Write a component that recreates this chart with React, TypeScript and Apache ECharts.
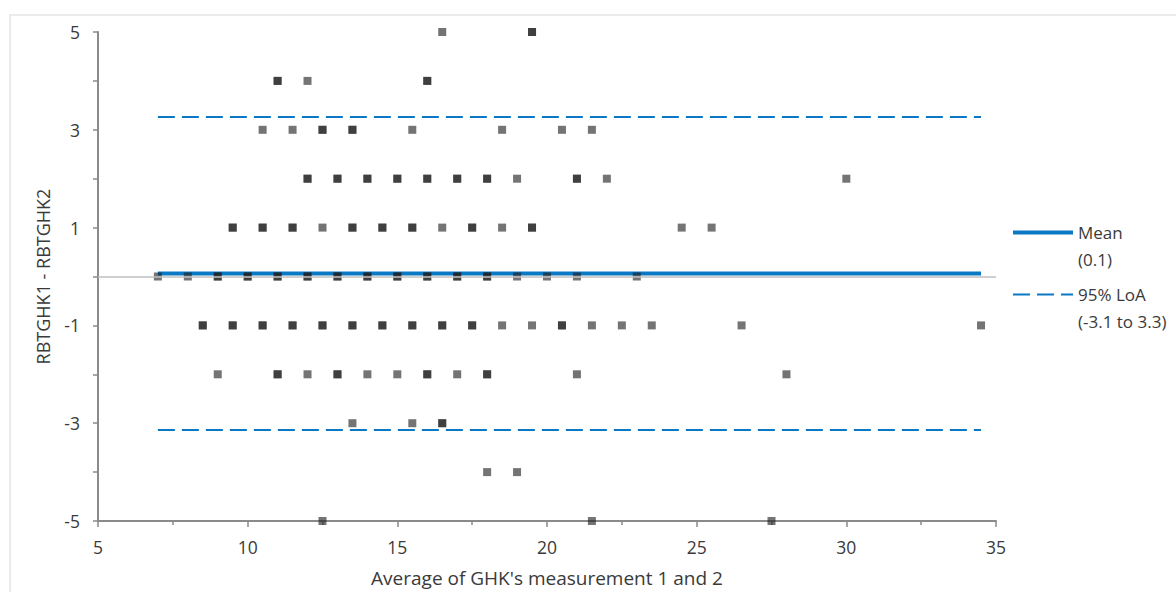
import React, { useEffect, useRef } from "react";
import * as echarts from "echarts";

// Each observation: [average of measurements 1 and 2, difference RBTGHK1 - RBTGHK2]
const observationsFirst: [number, number][] = [
  [16.5, 5], [19.5, 5],
  [11, 4], [12, 4], [16, 4],
  [10.5, 3], [11.5, 3], [12.5, 3], [13.5, 3], [15.5, 3], [18.5, 3], [20.5, 3], [21.5, 3],
  [12, 2], [13, 2], [14, 2], [15, 2], [16, 2], [17, 2], [18, 2], [19, 2], [21, 2], [22, 2], [30, 2],
  [9.5, 1], [10.5, 1], [11.5, 1], [12.5, 1], [13.5, 1], [14.5, 1], [15.5, 1], [16.5, 1], [17.5, 1], [18.5, 1], [19.5, 1], [24.5, 1], [25.5, 1],
  [7, 0], [8, 0], [9, 0], [10, 0], [11, 0], [12, 0], [13, 0], [14, 0], [15, 0], [16, 0], [17, 0], [18, 0], [19, 0], [20, 0], [21, 0], [23, 0],
  [8.5, -1], [9.5, -1], [10.5, -1], [11.5, -1], [12.5, -1], [13.5, -1], [14.5, -1], [15.5, -1], [16.5, -1], [17.5, -1], [18.5, -1], [19.5, -1], [20.5, -1], [21.5, -1], [22.5, -1], [23.5, -1], [26.5, -1], [34.5, -1],
  [9, -2], [11, -2], [12, -2], [13, -2], [14, -2], [15, -2], [16, -2], [17, -2], [18, -2], [21, -2], [28, -2],
  [13.5, -3], [15.5, -3], [16.5, -3],
  [18, -4], [19, -4],
  [12.5, -5], [21.5, -5], [27.5, -5],
];

// Repeated observations (overlapping points, drawn darker)
const observationsRepeated: [number, number][] = [
  [19.5, 5],
  [11, 4], [16, 4],
  [12.5, 3], [13.5, 3],
  [12, 2], [13, 2], [14, 2], [15, 2], [16, 2], [17, 2], [18, 2], [21, 2],
  [9.5, 1], [10.5, 1], [11.5, 1], [13.5, 1], [14.5, 1], [15.5, 1], [17.5, 1], [19.5, 1],
  [9, 0], [10, 0], [11, 0], [12, 0], [13, 0], [14, 0], [15, 0], [16, 0], [17, 0], [18, 0],
  [8.5, -1], [9.5, -1], [10.5, -1], [11.5, -1], [12.5, -1], [13.5, -1], [14.5, -1], [15.5, -1], [16.5, -1], [17.5, -1], [20.5, -1],
  [11, -2], [13, -2], [16, -2], [18, -2],
  [16.5, -3],
];

const meanDiff = 0.06;
const loaUpper = 3.26;
const loaLower = -3.14;
const lineRange = [7, 34.5];
const meanLabel = "Mean";
const meanSub = "(0.1)";
const loaLabel = "95% LoA";
const loaSub = "(-3.1 to 3.3)";

const FONT = "'Open Sans', sans-serif";
const TEXT = "#3a3a3a";
const AXIS = "#8a8a8a";
const BLUE = "#0a78c2";

export default function App() {
  const ref = useRef<HTMLDivElement>(null);
  useEffect(() => {
    if (!ref.current) return;
    const chart = echarts.init(ref.current, undefined, { renderer: "svg" });
    const hline = (v: number) => lineRange.map((x) => [x, v]);
    chart.setOption({
      animation: false,
      backgroundColor: "#ffffff",
      textStyle: { fontFamily: FONT },
      graphic: [
        {
          type: "rect",
          shape: { x: 10, y: 15, width: 1200, height: 620 },
          style: { fill: "none", stroke: "#ebebeb", lineWidth: 2 },
          silent: true,
          z: -10,
        },
      ],
      grid: { left: 98, right: 180, top: 32, bottom: 66 },
      legend: {
        left: 1011,
        top: 192,
        padding: 0,
        orient: "vertical",
        itemWidth: 60,
        itemHeight: 4,
        itemGap: -19,
        selectedMode: false,
        itemStyle: { opacity: 0 },
        data: [
          { name: meanLabel, lineStyle: { width: 4 } },
          { name: loaLabel, lineStyle: { width: 2 } },
        ],
        formatter: (name: string) =>
          "\u00a0\n" + name + "\n" + (name === meanLabel ? meanSub : loaSub),
        textStyle: { fontFamily: FONT, fontSize: 17, color: TEXT, lineHeight: 27 },
      },
      xAxis: {
        type: "value",
        min: 5,
        max: 35,
        interval: 5,
        name: "Average of GHK's measurement 1 and 2",
        nameLocation: "middle",
        nameGap: 47,
        nameTextStyle: { fontFamily: FONT, fontSize: 19, color: TEXT },
        axisLine: { onZero: false, lineStyle: { color: AXIS, width: 2 } },
        axisTick: { show: true, length: 6, lineStyle: { color: AXIS, width: 1.5 } },
        minorTick: { show: true, splitNumber: 2, length: 4, lineStyle: { color: AXIS, width: 1.5 } },
        axisLabel: { margin: 17, fontFamily: FONT, fontSize: 17.5, color: TEXT },
        splitLine: { show: false },
      },
      yAxis: {
        type: "value",
        min: -5,
        max: 5,
        interval: 1,
        name: "RBTGHK1 - RBTGHK2",
        nameLocation: "middle",
        nameGap: 46,
        nameTextStyle: { fontFamily: FONT, fontSize: 18, color: TEXT },
        axisLine: { show: true, onZero: false, lineStyle: { color: AXIS, width: 2 } },
        axisTick: { show: true, length: 5, lineStyle: { color: AXIS, width: 1.5 } },
        axisLabel: {
          margin: 18,
          fontFamily: FONT,
          fontSize: 17.5,
          color: TEXT,
          formatter: (v: number) => (Math.abs(v) % 2 === 1 ? String(v) : ""),
        },
        splitLine: { show: false },
      },
      series: [
        {
          name: meanLabel,
          type: "line",
          data: hline(meanDiff),
          symbol: "none",
          lineStyle: { color: BLUE, width: 4 },
          itemStyle: { color: BLUE },
          markLine: {
            silent: true,
            symbol: "none",
            label: { show: false },
            lineStyle: { color: "#bfbfbf", width: 1.5, type: "solid" },
            data: [{ yAxis: 0 }],
          },
          z: 2,
        },
        {
          name: loaLabel,
          type: "line",
          data: hline(loaUpper),
          symbol: "none",
          lineStyle: { color: BLUE, width: 2, type: [17, 7] },
          itemStyle: { color: BLUE },
          z: 2,
        },
        {
          name: loaLabel,
          type: "line",
          data: hline(loaLower),
          symbol: "none",
          lineStyle: { color: BLUE, width: 2, type: [17, 7] },
          itemStyle: { color: BLUE },
          z: 2,
        },
        {
          name: "Observations",
          type: "scatter",
          symbol: "rect",
          symbolSize: 8,
          data: observationsFirst.concat(observationsRepeated),
          itemStyle: { color: "#1f1f1f", opacity: 0.62 },
          clip: false,
          z: 3,
        },
      ],
    });
    return () => chart.dispose();
  }, []);
  return (
    <div style={{ position: "fixed", left: 0, top: 0 }}>
      <div ref={ref} style={{ width: 1176, height: 592 }} />
    </div>
  );
}
